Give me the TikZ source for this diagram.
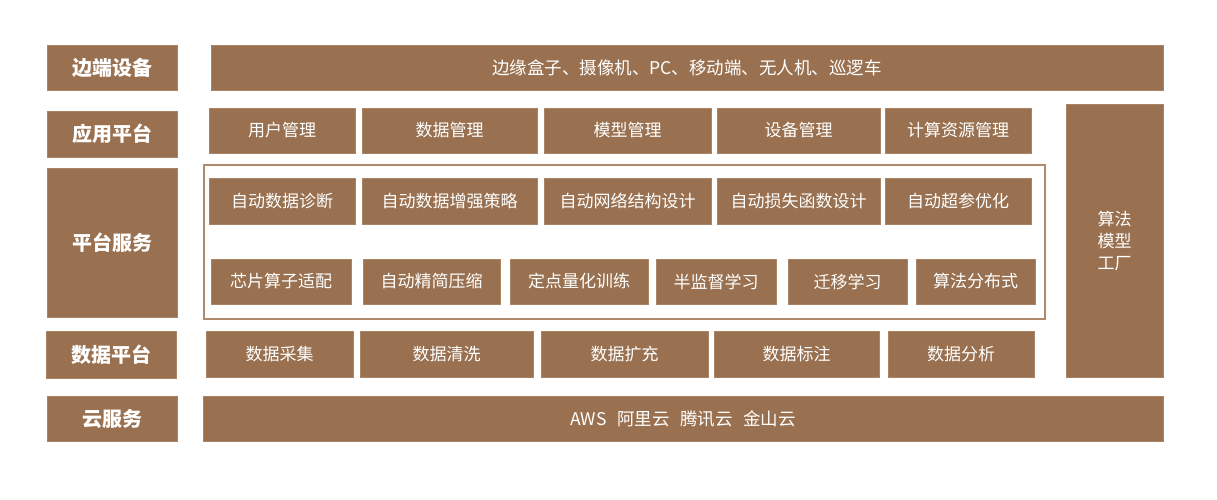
\documentclass[tikz,border=0pt]{standalone}
\usepackage{fontspec}
\newfontfamily\cjk{Noto Sans CJK SC}
\definecolor{boxbrown}{HTML}{9A7150}
\definecolor{boxedge}{HTML}{A98565}
\definecolor{framec}{HTML}{B08A6C}
\newcommand\bx[7][box]{\node[#1, minimum width={#5-#3}, minimum height={#6-#4}] (#2) at ({(#3+#5)/2},{(#4+#6)/2}) {#7};}
\begin{document}
\begin{tikzpicture}[x=1pt,y=-1pt,
  box/.style={fill=boxbrown, draw=boxedge, line width=0.7pt, text=white, inner sep=0pt, outer sep=0pt,
    font=\cjk\fontsize{17}{20}\selectfont},
  topbox/.style={box, font=\cjk\fontsize{17.5}{20}\selectfont},
  labelbox/.style={box, font=\cjk\bfseries\fontsize{20}{22}\selectfont},
  factory/.style={box, align=center, font=\cjk\fontsize{17}{22}\selectfont},
  framebox/.style={draw=framec, line width=1.1pt, fill=none}]
\useasboundingbox (0,0) rectangle (1217,500);
% left labels
\bx[labelbox]{l1}{47}{45}{177}{90}{边端设备}
\bx[labelbox]{l2}{47}{111}{177}{157}{应用平台}
\bx[labelbox]{l3}{47}{168}{177}{317}{平台服务}
\bx[labelbox]{l4}{46}{331}{176}{378}{数据平台}
\bx[labelbox]{l5}{47}{396}{177}{441}{云服务}
% top bar
\bx[topbox]{edge}{211}{45}{1163}{90}{边缘盒子、摄像机、PC、移动端、无人机、巡逻车}
% application platform
\bx{a1}{209}{108}{355}{153}{用户管理}
\bx{a2}{362}{108}{537}{153}{数据管理}
\bx{a3}{544}{108}{711}{153}{模型管理}
\bx{a4}{717}{108}{880}{153}{设备管理}
\bx{a5}{885}{108}{1031}{153}{计算资源管理}
% platform service frame
\node[framebox, minimum width=841, minimum height=154, inner sep=0pt, outer sep=0pt] (frame) at (624.5,242) {};
\bx{s1}{209}{178}{355}{224}{自动数据诊断}
\bx{s2}{362}{178}{537}{224}{自动数据增强策略}
\bx{s3}{544}{178}{711}{224}{自动网络结构设计}
\bx{s4}{717}{178}{880}{224}{自动损失函数设计}
\bx{s5}{885}{178}{1031}{224}{自动超参优化}
\bx{t1}{211}{259}{351}{304}{芯片算子适配}
\bx{t2}{363}{259}{500}{304}{自动精简压缩}
\bx{t3}{510}{259}{648}{304}{定点量化训练}
\bx{t4}{656}{259}{776}{304}{半监督学习}
\bx{t5}{788}{259}{907}{304}{迁移学习}
\bx{t6}{916}{259}{1035}{304}{算法分布式}
% data platform
\bx{d1}{206}{331}{353}{377}{数据采集}
\bx{d2}{360}{331}{533}{377}{数据清洗}
\bx{d3}{541}{331}{708}{377}{数据扩充}
\bx{d4}{714}{331}{879}{377}{数据标注}
\bx{d5}{888}{331}{1034}{377}{数据分析}
% cloud
\bx[topbox]{cloud}{203}{396}{1163}{441}{AWS\hspace{0.6em}阿里云\hspace{0.6em}腾讯云\hspace{0.6em}金山云}
% factory
\bx[factory]{fac}{1066}{104}{1163}{377}{算法\\模型\\工厂}
\end{tikzpicture}
\end{document}
